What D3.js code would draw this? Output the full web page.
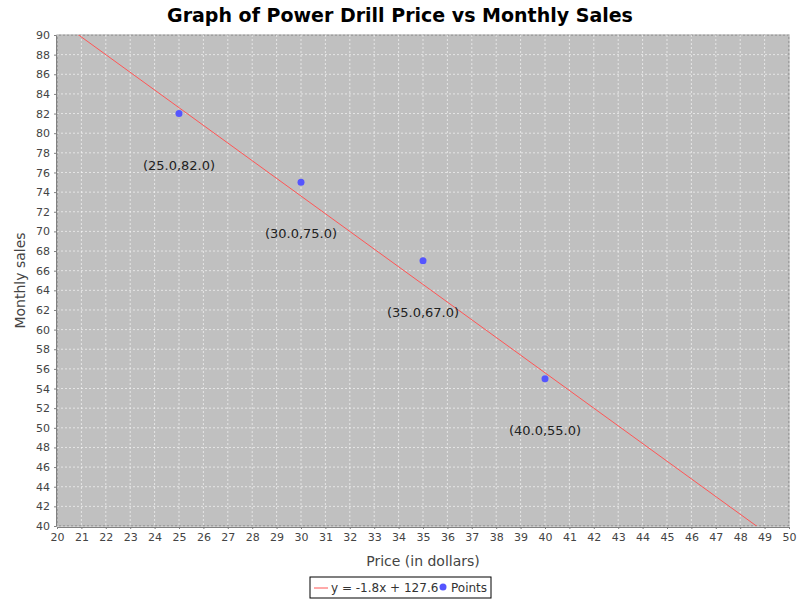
<!DOCTYPE html>
<html><head><meta charset="utf-8">
<script src="https://cdn.jsdelivr.net/npm/d3@7"></script>
<style>body{margin:0;background:#fff;font-family:"DejaVu Sans",sans-serif}</style>
</head><body><svg id="c" width="800" height="600"></svg>
<script>
var xs = [25, 30, 35, 40];
var ys = [82, 75, 67, 55];
var slope = -1.8, intercept = 127.6;
var xTicks = d3.range(20, 51, 1);
var yTicks = d3.range(40, 91, 2);

var svg = d3.select("#c");
var L = 57, R = 789, T = 35, B = 526;
var x = d3.scaleLinear().domain([20, 50]).range([L, R]);
var y = d3.scaleLinear().domain([40, 90]).range([B, T]);

svg.append("rect").attr("x", L).attr("y", T).attr("width", R - L).attr("height", B - T)
    .attr("fill", "#c0c0c0").attr("stroke", "#808080");

// grid
svg.append("g").selectAll("line").data(xTicks).enter().append("line")
    .attr("x1", d => x(d)).attr("x2", d => x(d)).attr("y1", T).attr("y2", B)
    .attr("stroke", "#fff").attr("stroke-width", 0.6).attr("stroke-dasharray", "2,2");
svg.append("g").selectAll("line").data(yTicks).enter().append("line")
    .attr("y1", d => y(d)).attr("y2", d => y(d)).attr("x1", L).attr("x2", R)
    .attr("stroke", "#fff").attr("stroke-width", 0.6).attr("stroke-dasharray", "2,2");

// axes
var xa = svg.append("g").attr("transform", "translate(0," + (B + 1) + ")")
    .call(d3.axisBottom(x).tickValues(xTicks).tickFormat(d3.format("d")).tickSize(2).tickPadding(4));
var ya = svg.append("g").attr("transform", "translate(" + (L - 1) + ",0)")
    .call(d3.axisLeft(y).tickValues(yTicks).tickFormat(d3.format("d")).tickSize(2).tickPadding(4));
[xa, ya].forEach(function(a){
    a.selectAll("text").attr("font-size", 11).attr("fill", "#444").attr("font-family", "DejaVu Sans");
    a.selectAll("line, path").attr("stroke", "#808080");
});

// regression line clipped
svg.append("clipPath").attr("id", "clip").append("rect")
    .attr("x", L).attr("y", T).attr("width", R - L).attr("height", B - T);
svg.append("line").attr("clip-path", "url(#clip)")
    .attr("x1", x(20)).attr("y1", y(slope * 20 + intercept))
    .attr("x2", x(50)).attr("y2", y(slope * 50 + intercept))
    .attr("stroke", "#ff5555").attr("stroke-width", 1);

// points
var pts = xs.map((d, i) => ({x: d, y: ys[i]}));
svg.selectAll("circle.p").data(pts).enter().append("circle")
    .attr("cx", d => x(d.x)).attr("cy", d => y(d.y)).attr("r", 3.5).attr("fill", "#5555ff");
svg.selectAll("text.lbl").data(pts).enter().append("text")
    .attr("x", d => x(d.x)).attr("y", d => y(d.y) + 56)
    .attr("text-anchor", "middle").attr("font-size", 13).attr("fill", "#222")
    .text(d => "(" + d.x.toFixed(1) + "," + d.y.toFixed(1) + ")");

// title + axis labels
svg.append("text").attr("x", 400).attr("y", 22).attr("text-anchor", "middle")
    .attr("font-size", 19).attr("font-weight", "bold").text("Graph of Power Drill Price vs Monthly Sales");
svg.append("text").attr("x", (L + R) / 2).attr("y", 566).attr("text-anchor", "middle")
    .attr("font-size", 14).attr("fill", "#444").text("Price (in dollars)");
svg.append("text").attr("transform", "translate(25," + (T + B) / 2 + ") rotate(-90)")
    .attr("text-anchor", "middle").attr("font-size", 14).attr("fill", "#444").text("Monthly sales");

// legend
var lg = svg.append("g");
lg.append("rect").attr("x", 310).attr("y", 577).attr("width", 181).attr("height", 21)
    .attr("fill", "#fff").attr("stroke", "#000");
lg.append("line").attr("x1", 314).attr("x2", 328).attr("y1", 588).attr("y2", 588).attr("stroke", "#ff5555");
lg.append("text").attr("x", 331).attr("y", 592).attr("font-size", 12).attr("fill", "#333").text("y = -1.8x + 127.6");
lg.append("circle").attr("cx", 443).attr("cy", 587).attr("r", 3.5).attr("fill", "#5555ff");
lg.append("text").attr("x", 451).attr("y", 592).attr("font-size", 12).attr("fill", "#333").text("Points");
</script></body></html>
